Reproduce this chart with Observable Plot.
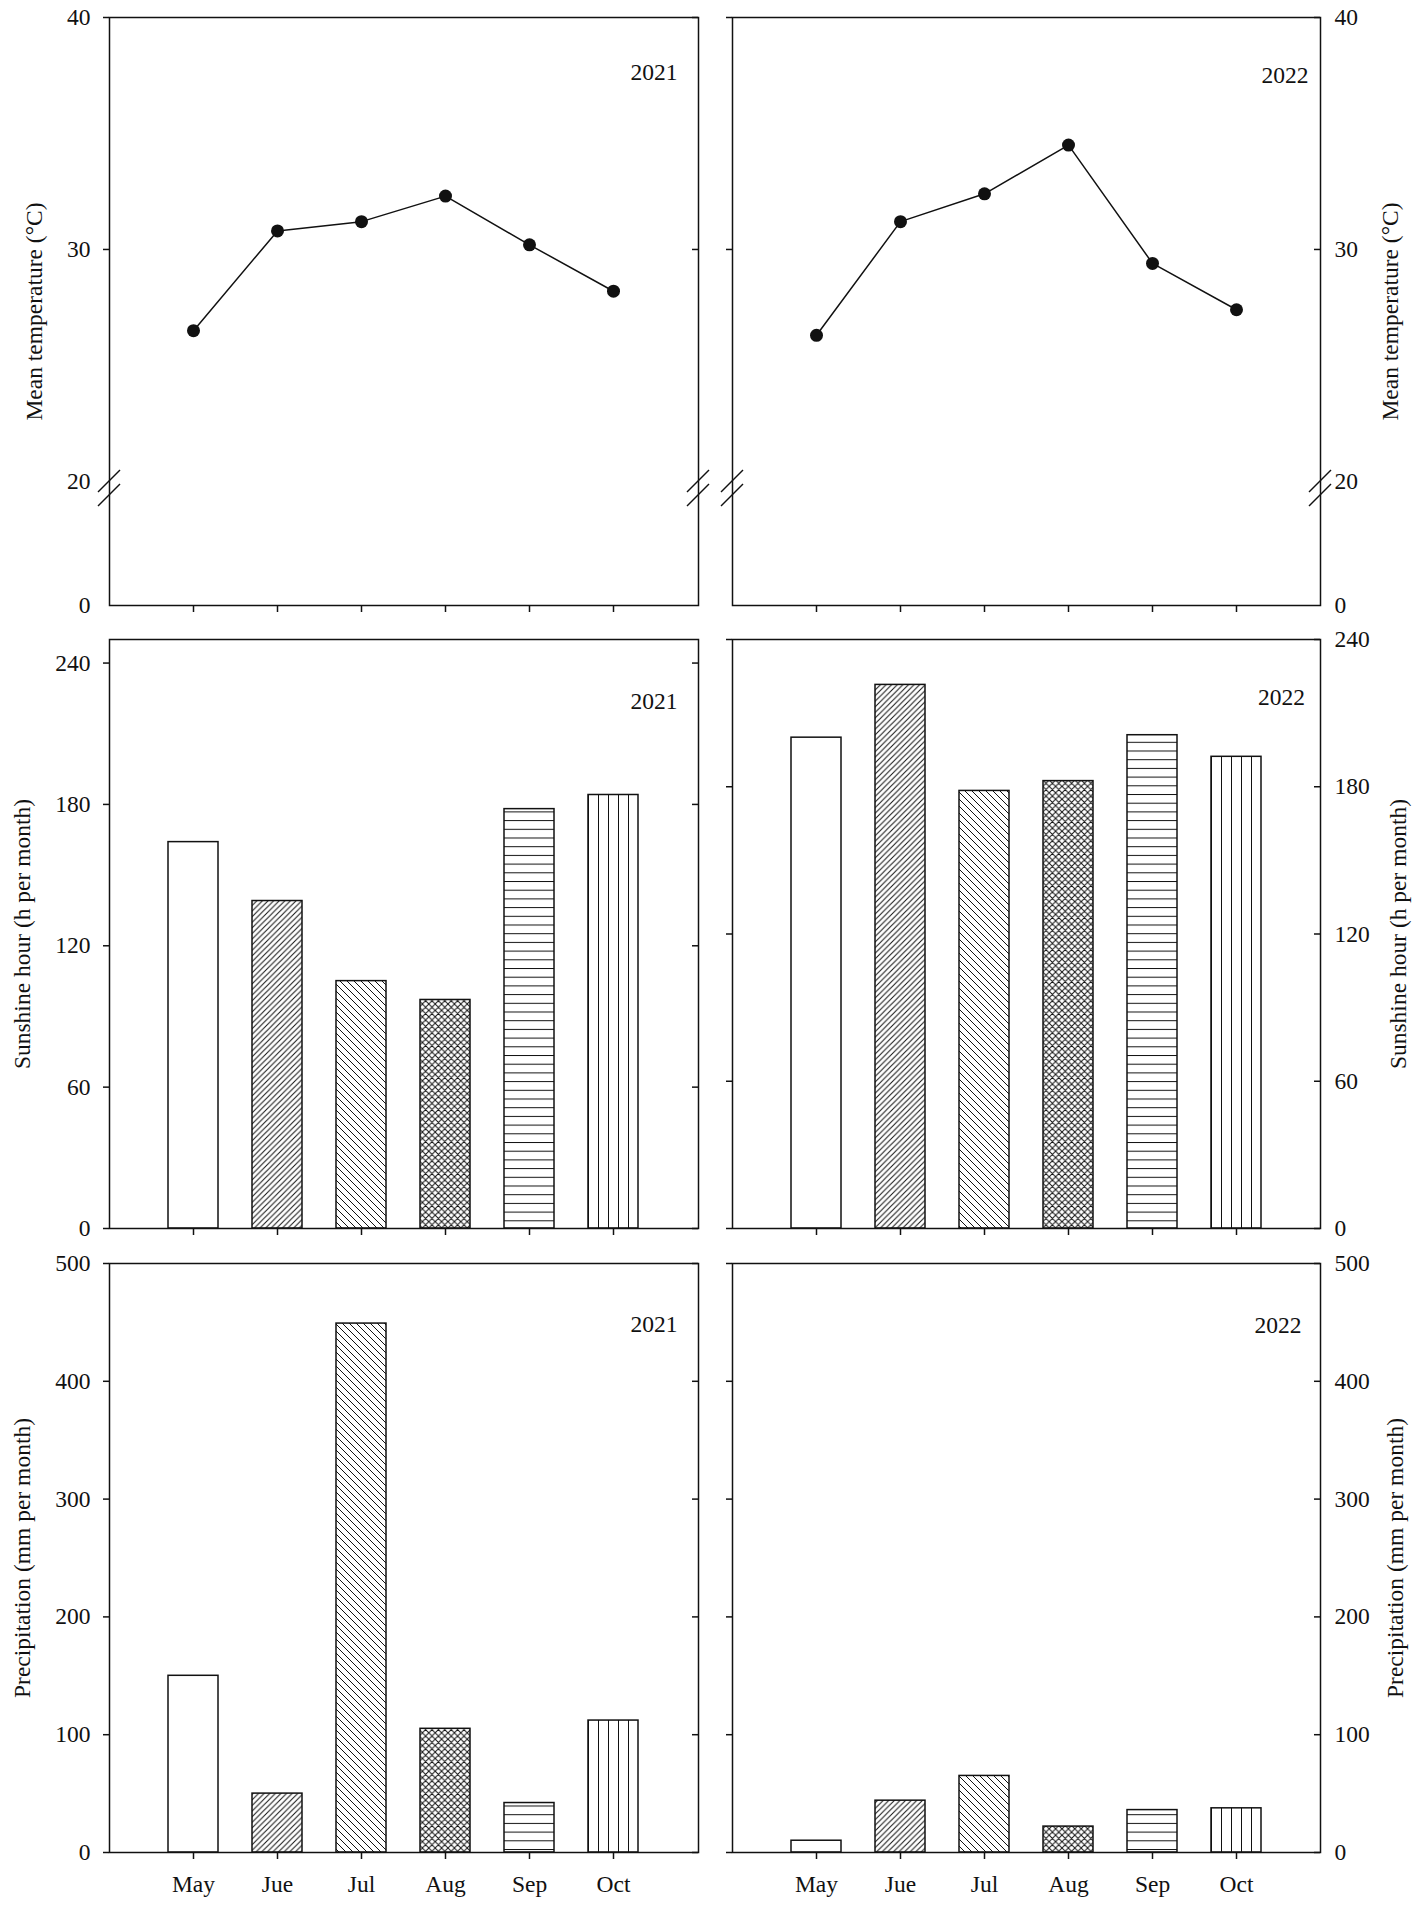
<!DOCTYPE html>
<html>
<head>
<meta charset="utf-8">
<script src="https://cdn.jsdelivr.net/npm/d3@7"></script>
<script src="https://cdn.jsdelivr.net/npm/@observablehq/plot@0.6"></script>
<style>
  html, body { margin: 0; padding: 0; background: #fff; }
  #root { position: relative; width: 1417px; height: 1908px; background: #fff; overflow: hidden; }
  .panel { position: absolute; }
</style>
</head>
<body>
<svg width="0" height="0" style="position:absolute;left:0;top:0">
  <defs>
    <pattern id="pat-May" patternUnits="userSpaceOnUse" width="10" height="10">
      <rect width="10" height="10" fill="#fff"/>
    </pattern>
    <pattern id="pat-Jun" patternUnits="userSpaceOnUse" width="5.6" height="5.6">
      <rect width="5.6" height="5.6" fill="#fff"/>
      <path d="M-1,1 L1,-1 M0,5.6 L5.6,0 M4.6,6.6 L6.6,4.6" stroke="#111" stroke-width="1"/>
    </pattern>
    <pattern id="pat-Jul" patternUnits="userSpaceOnUse" width="7" height="7">
      <rect width="7" height="7" fill="#fff"/>
      <path d="M-1,6 L1,8 M0,0 L7,7 M6,-1 L8,1" stroke="#111" stroke-width="1"/>
    </pattern>
    <pattern id="pat-Aug" patternUnits="userSpaceOnUse" width="6.4" height="6.4">
      <rect width="6.4" height="6.4" fill="#fff"/>
      <path d="M-1,1 L1,-1 M0,6.4 L6.4,0 M5.4,7.4 L7.4,5.4 M-1,5.4 L1,7.4 M0,0 L6.4,6.4 M5.4,-1 L7.4,1" stroke="#111" stroke-width="1"/>
    </pattern>
    <pattern id="pat-Sep" patternUnits="userSpaceOnUse" width="10" height="8.7">
      <rect width="10" height="8.7" fill="#fff"/>
      <path d="M0,0.5 H10" stroke="#111" stroke-width="1"/>
    </pattern>
    <pattern id="pat-Oct" patternUnits="objectBoundingBox" width="0.2" height="1">
      <rect width="40" height="3000" fill="#fff"/>
      <path d="M0.5,0 V3000" stroke="#111" stroke-width="1"/>
    </pattern>
  </defs>
</svg>
<div id="root"></div>
<script>
// ---------------- data ----------------
const months = ["May", "Jun", "Jul", "Aug", "Sep", "Oct"];
const monthLabels = ["May", "Jue", "Jul", "Aug", "Sep", "Oct"];
const years = ["2021", "2022"];

const temp2021 = [26.5, 30.8, 31.2, 32.3, 30.2, 28.2];
const temp2022 = [26.3, 31.2, 32.4, 34.5, 29.4, 27.4];
const sun2021 = [164, 139, 105, 97, 178, 184];
const sun2022 = [200, 221.5, 178.3, 182.3, 201, 192.2];
const prec2021 = [150, 50, 449, 105, 42, 112];
const prec2022 = [10, 44, 65, 22, 36, 37.5];

const tempTicks = [0, 20, 30, 40];
const tempTickMarks = [30, 40];
const tempBreak = 20;
const sunTicks = [0, 60, 120, 180, 240];
const precTicks = [0, 100, 200, 300, 400, 500];

const titles = {
  temp: "Mean temperature (\u00B0C)",
  sun: "Sunshine hour (h per month)",
  prec: "Precipitation (mm per month)"
};

// ---------------- style / layout ----------------
const INK = "#111";
const FONT = "'Liberation Serif', 'Times New Roman', Times, serif";
const FS = 23.5;

// broken temperature axis: 0–20 is compressed into the bottom 21.1% of the frame
const BREAK_FRAC = 0.211;
const tempTransform = d3.scaleLinear().domain([0, 20, 40]).range([0, 40 * BREAK_FRAC, 40]);

const cols = {
  left: { left: 0, width: 710, ml: 109, mr: 12 },
  right: { left: 710, width: 707, ml: 22, mr: 97 }
};
const rows = {
  temp: { top: 0, height: 620, mt: 17, mb: 15 },
  sun: { top: 620, height: 620, mt: 19, mb: 12 },
  prec: { top: 1240, height: 668, mt: 23, mb: 56 }
};

const rows2 = (vals) => months.map((m, i) => ({ month: m, value: vals[i] }));

const panels = [
  { row: "temp", side: "left", year: years[0], data: rows2(temp2021), kind: "line", yDomain: [0, 40], titleDx: -75, yearDx: -21, yearDy: 54.5 },
  { row: "temp", side: "right", year: years[1], data: rows2(temp2022), kind: "line", yDomain: [0, 40], titleDx: 70, yearDx: -12, yearDy: 58 },
  { row: "sun", side: "left", year: years[0], data: rows2(sun2021), kind: "bar", yDomain: [0, 250], ticks: sunTicks, titleDx: -87, yearDx: -21, yearDy: 62 },
  { row: "sun", side: "right", year: years[1], data: rows2(sun2022), kind: "bar", yDomain: [0, 240], ticks: sunTicks, titleDx: 78, yearDx: -15.5, yearDy: 58 },
  { row: "prec", side: "left", year: years[0], data: rows2(prec2021), kind: "bar", yDomain: [0, 500], ticks: precTicks, titleDx: -87, yearDx: -21, yearDy: 61 },
  { row: "prec", side: "right", year: years[1], data: rows2(prec2022), kind: "bar", yDomain: [0, 500], ticks: precTicks, titleDx: 75, yearDx: -19, yearDy: 62 }
];

const breakMark = (val) => (index, scales, values, dims) => {
  const g = d3.create("svg:g").attr("stroke", INK).attr("stroke-width", 1.5).attr("fill", "none");
  const y0 = scales.y(tempTransform(val));
  const xs = [dims.marginLeft, dims.width - dims.marginRight];
  for (const x of xs) {
    for (const off of [0, 14]) {
      g.append("line")
        .attr("x1", x - 11).attr("y1", y0 + off + 11)
        .attr("x2", x + 11).attr("y2", y0 + off - 11);
    }
  }
  return g.node();
};

const root = document.getElementById("root");

for (const p of panels) {
  const col = cols[p.side];
  const row = rows[p.row];
  const W = col.width, H = row.height;
  const fw = W - col.ml - col.mr;
  const isLeft = p.side === "left";
  const isBottom = p.row === "prec";
  const isTemp = p.kind === "line";
  const marks = [];

  let yOpts, labelTicks, markTicks, axisTicksLab, axisTicksMark, fmt;
  if (isTemp) {
    yOpts = { domain: p.yDomain, transform: tempTransform, axis: null };
    labelTicks = tempTicks;
    markTicks = tempTickMarks;
    // axis marks take tick positions in the scale's (transformed) space
    axisTicksLab = tempTicks.map(tempTransform);
    axisTicksMark = tempTickMarks.map(tempTransform);
    fmt = d => String(Math.round(tempTransform.invert(d)));
  } else {
    yOpts = { domain: p.yDomain, axis: null };
    labelTicks = p.ticks;
    markTicks = p.ticks;
    axisTicksLab = p.ticks;
    axisTicksMark = p.ticks;
    fmt = d => String(d);
  }

  if (p.kind === "bar") {
    marks.push(Plot.barY(p.data, {
      x: "month", y: "value",
      fill: d => `url(#pat-${d.month})`,
      stroke: INK, strokeWidth: 1.5
    }));
  }
  marks.push(Plot.frame({ stroke: INK, strokeWidth: 1.5 }));
  if (isTemp) {
    marks.push(Plot.line(p.data, { x: "month", y: "value", stroke: INK, strokeWidth: 1.5 }));
    marks.push(Plot.dot(p.data, { x: "month", y: "value", r: 6.5, fill: INK, stroke: "none" }));
    marks.push(breakMark(tempBreak));
  }

  // x axis ticks (outward, downward)
  marks.push(Plot.axisX({
    anchor: "bottom", tickSize: 7, tickPadding: 16, strokeWidth: 1.5, label: null,
    fontSize: FS,
    tickFormat: isBottom ? (d => monthLabels[months.indexOf(d)]) : (() => "")
  }));

  // left side: outward ticks
  marks.push(Plot.axisY({
    anchor: "left", ticks: axisTicksMark, tickSize: 6, strokeWidth: 1.5, label: null,
    tickFormat: () => ""
  }));
  // right side: inward ticks
  marks.push(Plot.tickY(markTicks, { y: d => d, insetLeft: fw - 6, stroke: INK, strokeWidth: 1.5 }));

  // tick labels
  if (isLeft) {
    marks.push(Plot.axisY({
      anchor: "left", ticks: axisTicksLab, tickSize: 0, tickPadding: 19, label: null, fontSize: FS, tickFormat: fmt
    }));
  } else {
    marks.push(Plot.axisY({
      anchor: "right", ticks: axisTicksLab, tickSize: 0, tickPadding: 14, label: null, fontSize: FS, tickFormat: fmt
    }));
  }

  // axis title
  marks.push(Plot.text([titles[p.row]], {
    text: d => d,
    frameAnchor: isLeft ? "left" : "right",
    dx: p.titleDx, rotate: -90, textAnchor: "middle", lineAnchor: "middle",
    fontSize: FS, fill: INK
  }));

  // year label
  marks.push(Plot.text([p.year], {
    text: d => d,
    frameAnchor: "top-right",
    dx: p.yearDx, dy: p.yearDy, textAnchor: "end", lineAnchor: "middle",
    fontSize: FS, fill: INK
  }));

  const svg = Plot.plot({
    width: W, height: H,
    marginLeft: col.ml, marginRight: col.mr, marginTop: row.mt, marginBottom: row.mb,
    style: { fontFamily: FONT, fontSize: FS + "px", color: INK, background: "transparent", overflow: "visible" },
    x: { type: "band", domain: months, paddingInner: 0.4, paddingOuter: 0.7, axis: null },
    y: yOpts,
    color: { type: "identity" },
    marks
  });
  const wrap = document.createElement("div");
  wrap.className = "panel";
  wrap.style.left = col.left + "px";
  wrap.style.top = row.top + "px";
  wrap.appendChild(svg);
  root.appendChild(wrap);
}
</script>
</body>
</html>
